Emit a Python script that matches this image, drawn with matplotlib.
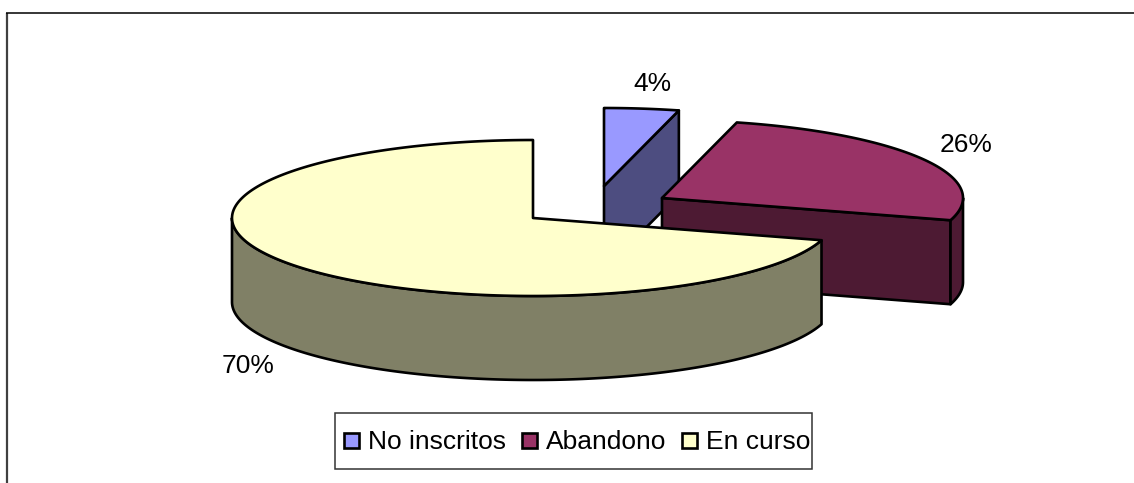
import numpy as np
import matplotlib
matplotlib.use("Agg")
import matplotlib.pyplot as plt
from matplotlib.patches import Polygon, Rectangle

categories = ["No inscritos", "Abandono", "En curso"]
values = [4.0, 25.6, 70.4]
top_colors = ["#9999FF", "#993366", "#FFFFCC"]
side_colors = ["#4D4D80", "#4D1A33", "#808066"]

plt.rcParams["font.family"] = ["Liberation Sans", "DejaVu Sans"]
W, H = 1134, 483
fig = plt.figure(figsize=(W / 100, H / 100), dpi=100, facecolor="white")
ax = fig.add_axes([0, 0, 1, 1])
ax.set_xlim(0, W)
ax.set_ylim(H, 0)
ax.axis("off")

RX, RY, DEPTH = 301, 78, 84
centers = [(604, 186), (662, 198), (533, 218)]
LW = 1.9
FS = 19


def rim(c, t0, t1, n=200):
    t = np.radians(np.linspace(t0, t1, n))
    return np.column_stack([c[0] + RX * np.sin(t), c[1] - RY * np.cos(t)])


def poly(pts, fc):
    ax.add_patch(Polygon(pts, closed=True, fc=fc, ec="black", lw=LW, joinstyle="round"))


# frame
ax.plot([6.5, 6.5], [483, 12.5], color="#404040", lw=1.6, solid_capstyle="butt")
ax.plot([6, 1134], [12.5, 12.5], color="black", lw=1.1, solid_capstyle="butt")

edges = np.cumsum([0] + values) / sum(values) * 360
for i, val in enumerate(values):
    c = centers[i]
    t0, t1 = edges[i], edges[i + 1]
    arc = rim(c, t0, t1)
    if t1 < 180:
        a = arc[-1]
        poly([c, a, (a[0], a[1] + DEPTH), (c[0], c[1] + DEPTH)], side_colors[i])
    lo, hi = max(t0, 90), min(t1, 270)
    if lo < hi:
        wall = rim(c, lo, hi)
        poly(np.vstack([wall, (wall + [0, DEPTH])[::-1]]), side_colors[i])
    poly(np.vstack([[c], arc]), top_colors[i])

# percentage labels
label_pos = [(652, 84), (966, 145), (248, 366)]
for (x, y), val in zip(label_pos, values):
    ax.text(x, y, f"{val:.0f}%", ha="center", va="center", fontsize=FS, color="black")

# legend
ax.add_patch(Rectangle((335, 413), 477, 55.5, fc="white", ec="#333333", lw=1.1))
swatches = [344, 522, 681.5]
texts = [368, 546, 705.5]
for sx, tx, name, col in zip(swatches, texts, categories, top_colors):
    ax.add_patch(Rectangle((sx, 433), 15, 15, fc=col, ec="black", lw=1.9))
    ax.text(tx, 442, name, ha="left", va="center", fontsize=FS, color="black")

fig.savefig("out.png", dpi=100, facecolor="white")
